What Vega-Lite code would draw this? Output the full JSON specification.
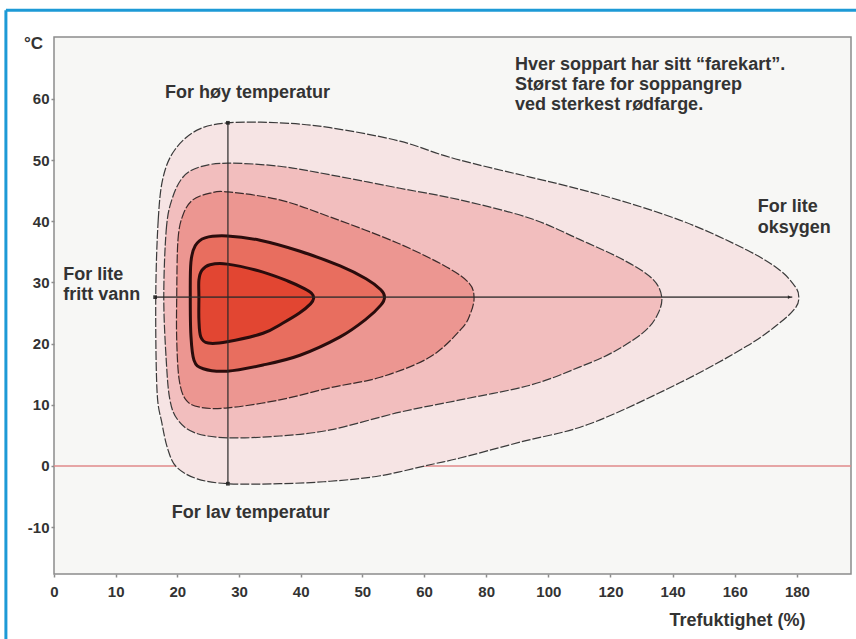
{
  "$schema": "https://vega.github.io/schema/vega-lite/v6.json",
  "autosize": {"type": "none"},
  "padding": {"left": 54, "top": 37, "right": 5, "bottom": 65},
  "width": 797,
  "height": 537,
  "background": "#ffffff",
  "config": {
    "view": {"fill": "#f7f7f5", "stroke": "#8c8c8c", "strokeWidth": 1.5},
    "font": "Liberation Sans",
    "text": {"font": "Liberation Sans"}
  },
  "datasets": {
    "border": [
      {"x": -7.8, "x2": -7.8, "y": 74.5, "y2": -30},
      {"x": -7.8, "x2": 205, "y": 74.5, "y2": 74.5}
    ],
    "zero": [
      {"x": 0, "x2": 197.4, "y": 0, "y2": 0}
    ],
    "arrows": [
      {"x": 28.2, "x2": 28.2, "y": -2.9, "y2": 56.1},
      {"x": 16.4, "x2": 178.5, "y": 27.6, "y2": 27.6}
    ],
    "ends": [
      {"x": 28.2, "y": 56.1, "end": "top"},
      {"x": 28.2, "y": -2.9, "end": "bottom"},
      {"x": 16.4, "y": 27.6, "end": "left"},
      {"x": 177.6, "y": 27.6, "end": "right"}
    ],
    "rings": [
      {"ring": 1, "i": 1, "x": 16.5, "y": 27.6},
      {"ring": 1, "i": 2, "x": 16.9, "y": 40.2},
      {"ring": 1, "i": 3, "x": 17.7, "y": 47.2},
      {"ring": 1, "i": 4, "x": 19.6, "y": 51.7},
      {"ring": 1, "i": 5, "x": 23.2, "y": 54.9},
      {"ring": 1, "i": 6, "x": 28.2, "y": 56.1},
      {"ring": 1, "i": 7, "x": 36.6, "y": 56.1},
      {"ring": 1, "i": 8, "x": 44.8, "y": 55.3},
      {"ring": 1, "i": 9, "x": 56.1, "y": 53.1},
      {"ring": 1, "i": 10, "x": 71.6, "y": 50.0},
      {"ring": 1, "i": 11, "x": 113.4, "y": 44.8},
      {"ring": 1, "i": 12, "x": 142.3, "y": 40.2},
      {"ring": 1, "i": 13, "x": 163.9, "y": 35.3},
      {"ring": 1, "i": 14, "x": 174.5, "y": 32.0},
      {"ring": 1, "i": 15, "x": 179.6, "y": 29.2},
      {"ring": 1, "i": 16, "x": 180.6, "y": 27.6},
      {"ring": 1, "i": 17, "x": 179.6, "y": 25.9},
      {"ring": 1, "i": 18, "x": 174.5, "y": 23.4},
      {"ring": 1, "i": 19, "x": 163.9, "y": 19.6},
      {"ring": 1, "i": 20, "x": 142.3, "y": 13.6},
      {"ring": 1, "i": 21, "x": 113.4, "y": 6.9},
      {"ring": 1, "i": 22, "x": 90.9, "y": 3.9},
      {"ring": 1, "i": 23, "x": 71.6, "y": 1.3},
      {"ring": 1, "i": 24, "x": 61.9, "y": 0.2},
      {"ring": 1, "i": 25, "x": 52.9, "y": -1.6},
      {"ring": 1, "i": 26, "x": 44.8, "y": -2.5},
      {"ring": 1, "i": 27, "x": 36.6, "y": -2.9},
      {"ring": 1, "i": 28, "x": 28.2, "y": -2.9},
      {"ring": 1, "i": 29, "x": 23.2, "y": -2.1},
      {"ring": 1, "i": 30, "x": 19.9, "y": -0.2},
      {"ring": 1, "i": 31, "x": 18.5, "y": 2.6},
      {"ring": 1, "i": 32, "x": 17.5, "y": 7.0},
      {"ring": 1, "i": 33, "x": 16.7, "y": 12.4},

      {"ring": 2, "i": 1, "x": 17.8, "y": 27.6},
      {"ring": 2, "i": 2, "x": 18.2, "y": 38.6},
      {"ring": 2, "i": 3, "x": 19.1, "y": 43.5},
      {"ring": 2, "i": 4, "x": 20.9, "y": 47.2},
      {"ring": 2, "i": 5, "x": 23.7, "y": 48.9},
      {"ring": 2, "i": 6, "x": 28.2, "y": 49.5},
      {"ring": 2, "i": 7, "x": 36.6, "y": 49.0},
      {"ring": 2, "i": 8, "x": 44.8, "y": 47.6},
      {"ring": 2, "i": 9, "x": 56.1, "y": 45.4},
      {"ring": 2, "i": 10, "x": 71.6, "y": 43.5},
      {"ring": 2, "i": 11, "x": 94.1, "y": 40.5},
      {"ring": 2, "i": 12, "x": 110.2, "y": 37.0},
      {"ring": 2, "i": 13, "x": 124.5, "y": 33.6},
      {"ring": 2, "i": 14, "x": 133.5, "y": 30.6},
      {"ring": 2, "i": 15, "x": 136.5, "y": 27.6},
      {"ring": 2, "i": 16, "x": 135.0, "y": 24.6},
      {"ring": 2, "i": 17, "x": 130.5, "y": 21.8},
      {"ring": 2, "i": 18, "x": 120.8, "y": 18.6},
      {"ring": 2, "i": 19, "x": 110.2, "y": 16.2},
      {"ring": 2, "i": 20, "x": 94.1, "y": 13.2},
      {"ring": 2, "i": 21, "x": 71.6, "y": 10.8},
      {"ring": 2, "i": 22, "x": 56.1, "y": 8.8},
      {"ring": 2, "i": 23, "x": 44.8, "y": 5.9},
      {"ring": 2, "i": 24, "x": 36.6, "y": 4.9},
      {"ring": 2, "i": 25, "x": 28.2, "y": 4.6},
      {"ring": 2, "i": 26, "x": 22.9, "y": 5.4},
      {"ring": 2, "i": 27, "x": 20.1, "y": 7.5},
      {"ring": 2, "i": 28, "x": 18.8, "y": 10.8},
      {"ring": 2, "i": 29, "x": 18.2, "y": 17.3},

      {"ring": 3, "i": 1, "x": 19.9, "y": 27.6},
      {"ring": 3, "i": 2, "x": 20.1, "y": 36.9},
      {"ring": 3, "i": 3, "x": 20.9, "y": 41.0},
      {"ring": 3, "i": 4, "x": 22.5, "y": 43.5},
      {"ring": 3, "i": 5, "x": 25.3, "y": 44.6},
      {"ring": 3, "i": 6, "x": 28.2, "y": 44.8},
      {"ring": 3, "i": 7, "x": 36.6, "y": 43.5},
      {"ring": 3, "i": 8, "x": 44.8, "y": 40.7},
      {"ring": 3, "i": 9, "x": 55.6, "y": 36.5},
      {"ring": 3, "i": 10, "x": 67.4, "y": 32.5},
      {"ring": 3, "i": 11, "x": 74.5, "y": 29.9},
      {"ring": 3, "i": 12, "x": 76.1, "y": 27.6},
      {"ring": 3, "i": 13, "x": 75.0, "y": 25.0},
      {"ring": 3, "i": 14, "x": 72.0, "y": 22.4},
      {"ring": 3, "i": 15, "x": 61.9, "y": 17.8},
      {"ring": 3, "i": 16, "x": 52.9, "y": 14.5},
      {"ring": 3, "i": 17, "x": 44.8, "y": 12.8},
      {"ring": 3, "i": 18, "x": 36.6, "y": 10.8},
      {"ring": 3, "i": 19, "x": 28.2, "y": 9.5},
      {"ring": 3, "i": 20, "x": 23.7, "y": 9.6},
      {"ring": 3, "i": 21, "x": 21.4, "y": 10.8},
      {"ring": 3, "i": 22, "x": 20.3, "y": 14.1},
      {"ring": 3, "i": 23, "x": 19.9, "y": 20.6},

      {"ring": 4, "i": 1, "x": 22.1, "y": 27.6},
      {"ring": 4, "i": 2, "x": 22.2, "y": 33.3},
      {"ring": 4, "i": 3, "x": 22.9, "y": 36.0},
      {"ring": 4, "i": 4, "x": 24.5, "y": 37.3},
      {"ring": 4, "i": 5, "x": 28.1, "y": 37.6},
      {"ring": 4, "i": 6, "x": 33.4, "y": 36.9},
      {"ring": 4, "i": 7, "x": 39.9, "y": 35.1},
      {"ring": 4, "i": 8, "x": 46.4, "y": 32.7},
      {"ring": 4, "i": 9, "x": 50.6, "y": 30.6},
      {"ring": 4, "i": 10, "x": 53.0, "y": 28.8},
      {"ring": 4, "i": 11, "x": 53.6, "y": 27.6},
      {"ring": 4, "i": 12, "x": 53.0, "y": 26.3},
      {"ring": 4, "i": 13, "x": 50.6, "y": 24.0},
      {"ring": 4, "i": 14, "x": 46.4, "y": 21.1},
      {"ring": 4, "i": 15, "x": 39.9, "y": 18.1},
      {"ring": 4, "i": 16, "x": 33.9, "y": 16.5},
      {"ring": 4, "i": 17, "x": 28.1, "y": 15.5},
      {"ring": 4, "i": 18, "x": 24.2, "y": 15.9},
      {"ring": 4, "i": 19, "x": 22.7, "y": 17.3},
      {"ring": 4, "i": 20, "x": 22.2, "y": 21.4},

      {"ring": 5, "i": 1, "x": 23.5, "y": 27.6},
      {"ring": 5, "i": 2, "x": 23.5, "y": 30.4},
      {"ring": 5, "i": 3, "x": 24.0, "y": 32.0},
      {"ring": 5, "i": 4, "x": 25.3, "y": 32.9},
      {"ring": 5, "i": 5, "x": 28.1, "y": 33.0},
      {"ring": 5, "i": 6, "x": 33.9, "y": 31.7},
      {"ring": 5, "i": 7, "x": 38.0, "y": 30.2},
      {"ring": 5, "i": 8, "x": 40.6, "y": 29.0},
      {"ring": 5, "i": 9, "x": 41.8, "y": 28.2},
      {"ring": 5, "i": 10, "x": 42.1, "y": 27.4},
      {"ring": 5, "i": 11, "x": 41.6, "y": 26.5},
      {"ring": 5, "i": 12, "x": 39.8, "y": 25.0},
      {"ring": 5, "i": 13, "x": 37.0, "y": 23.3},
      {"ring": 5, "i": 14, "x": 33.9, "y": 21.7},
      {"ring": 5, "i": 15, "x": 28.1, "y": 20.3},
      {"ring": 5, "i": 16, "x": 25.0, "y": 20.1},
      {"ring": 5, "i": 17, "x": 23.8, "y": 21.1},
      {"ring": 5, "i": 18, "x": 23.5, "y": 23.9}
    ],
    "labels": [
      {"x": 18.0, "y": 61.0, "text": "For høy temperatur"},
      {"x": 19.1, "y": -7.7, "text": "For lav temperatur"},
      {"x": 1.5, "y": 31.2, "text": "For lite"},
      {"x": 1.5, "y": 28.0, "text": "fritt vann"},
      {"x": 167.4, "y": 42.3, "text": "For lite"},
      {"x": 167.4, "y": 38.9, "text": "oksygen"},
      {"x": 89.3, "y": 65.6, "text": "Hver soppart har sitt “farekart”."},
      {"x": 89.3, "y": 62.3, "text": "Størst fare for soppangrep"},
      {"x": 89.3, "y": 59.0, "text": "ved sterkest rødfarge."}
    ]
  },
  "encoding": {
    "x": {
      "field": "x", "type": "quantitative",
      "scale": {"domain": [0, 60, 197.4], "range": [0, 370, 797], "nice": false, "zero": false},
      "axis": {
        "values": [0, 10, 20, 30, 40, 50, 60, 80, 100, 120, 140, 160, 180],
        "title": "Trefuktighet (%)",
        "titleX": 683, "titleY": 46, "titleAlign": "center", "titleBaseline": "middle",
        "titleFontSize": 18, "titleFontWeight": "bold", "titleColor": "#333333", "titleFont": "Liberation Sans",
        "labelFontSize": 15, "labelFontWeight": "bold", "labelColor": "#333333", "labelFont": "Liberation Sans",
        "labelPadding": 7, "labelFlush": false, "labelOverlap": false,
        "tickSize": 3, "tickColor": "#8c8c8c", "tickWidth": 1.5,
        "domain": false, "grid": false
      }
    },
    "y": {
      "field": "y", "type": "quantitative",
      "scale": {"domain": [-17.66, 70.13], "nice": false, "zero": false},
      "axis": {
        "values": [-10, 0, 10, 20, 30, 40, 50, 60],
        "labelExpr": "'' + datum.value",
        "title": "°C", "titleAngle": 0,
        "titleX": -21, "titleY": 6, "titleAlign": "center", "titleBaseline": "middle",
        "titleFontSize": 17, "titleFontWeight": "bold", "titleColor": "#333333", "titleFont": "Liberation Sans",
        "labelFontSize": 15, "labelFontWeight": "bold", "labelColor": "#333333", "labelFont": "Liberation Sans",
        "labelPadding": 2, "labelFlush": false, "labelOverlap": false,
        "tickSize": 3, "tickColor": "#8c8c8c", "tickWidth": 1.5,
        "domain": false, "grid": false
      }
    }
  },
  "layer": [
    {
      "data": {"name": "border"},
      "mark": {"type": "rule", "stroke": "#1d9ad6", "strokeWidth": 3, "clip": false},
      "encoding": {"x2": {"field": "x2"}, "y2": {"field": "y2"}}
    },
    {
      "data": {"name": "zero"},
      "mark": {"type": "rule", "stroke": "#e08a8a", "strokeWidth": 1.5},
      "encoding": {"x2": {"field": "x2"}, "y2": {"field": "y2"}}
    },
    {
      "data": {"name": "rings"},
      "transform": [{"filter": "datum.ring == 1"}],
      "mark": {"type": "line", "interpolate": "cardinal-closed", "fill": "#f6e4e4", "stroke": "#3a3a3a", "strokeWidth": 1.2, "strokeDash": [9, 2]},
      "encoding": {"order": {"field": "i", "type": "quantitative"}}
    },
    {
      "data": {"name": "rings"},
      "transform": [{"filter": "datum.ring == 2"}],
      "mark": {"type": "line", "interpolate": "cardinal-closed", "fill": "#f2bebe", "stroke": "#3a3a3a", "strokeWidth": 1.2, "strokeDash": [9, 2]},
      "encoding": {"order": {"field": "i", "type": "quantitative"}}
    },
    {
      "data": {"name": "rings"},
      "transform": [{"filter": "datum.ring == 3"}],
      "mark": {"type": "line", "interpolate": "cardinal-closed", "fill": "#ec9691", "stroke": "#3a2a2a", "strokeWidth": 1.2, "strokeDash": [9, 2]},
      "encoding": {"order": {"field": "i", "type": "quantitative"}}
    },
    {
      "data": {"name": "rings"},
      "transform": [{"filter": "datum.ring == 4"}],
      "mark": {"type": "line", "interpolate": "cardinal-closed", "fill": "#e86e5f", "stroke": "#2a0c0c", "strokeWidth": 3},
      "encoding": {"order": {"field": "i", "type": "quantitative"}}
    },
    {
      "data": {"name": "rings"},
      "transform": [{"filter": "datum.ring == 5"}],
      "mark": {"type": "line", "interpolate": "cardinal-closed", "fill": "#e24632", "stroke": "#2a0c0c", "strokeWidth": 3},
      "encoding": {"order": {"field": "i", "type": "quantitative"}}
    },
    {
      "data": {"name": "arrows"},
      "mark": {"type": "rule", "stroke": "#2a2a2a", "strokeWidth": 1.6, "opacity": 0.75},
      "encoding": {"x2": {"field": "x2"}, "y2": {"field": "y2"}}
    },
    {
      "data": {"name": "ends"},
      "mark": {"type": "point", "filled": true, "color": "#222222", "opacity": 0.9},
      "encoding": {
        "shape": {"field": "end", "type": "nominal", "scale": {"domain": ["top", "bottom", "left", "right"], "range": ["square", "square", "square", "triangle-right"]}, "legend": null},
        "size": {"field": "end", "type": "nominal", "scale": {"domain": ["top", "bottom", "left", "right"], "range": [14, 14, 10, 45]}, "legend": null}
      }
    },
    {
      "data": {"name": "labels"},
      "mark": {"type": "text", "align": "left", "baseline": "middle", "fontSize": 18, "fontWeight": "bold", "color": "#333333", "font": "Liberation Sans"},
      "encoding": {"text": {"field": "text", "type": "nominal"}}
    }
  ]
}
